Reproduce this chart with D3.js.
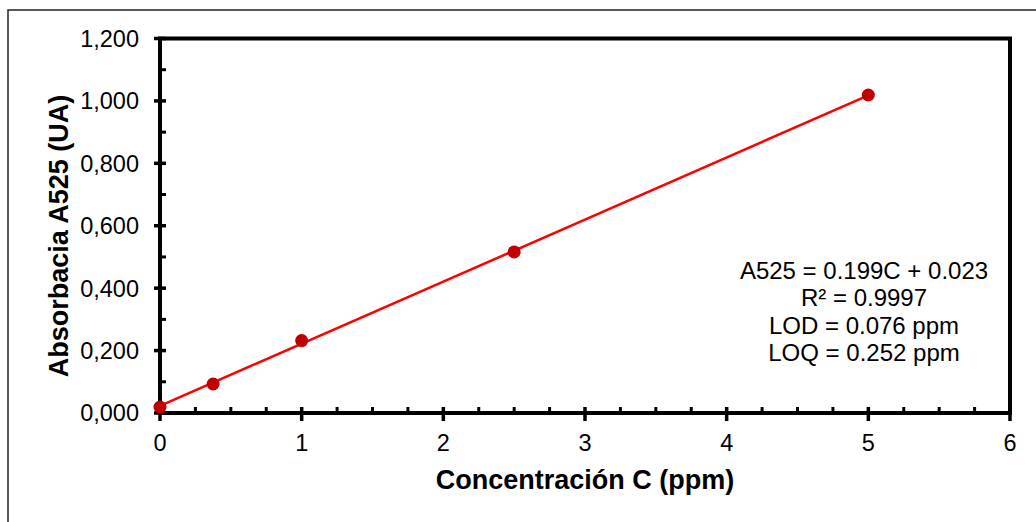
<!DOCTYPE html>
<html lang="es">
<head>
  <meta charset="UTF-8" />
  <title>Curva de calibración A525</title>
  <style>
    body {
      margin: 0;
      background: #fff;
      font-family: "Liberation Sans", Arial, sans-serif;
    }
    .tick-label { font-size: 23.5px; fill: #000; }
    .axis-title { font-size: 27px; font-weight: bold; fill: #000; }
    .eq { font-size: 24px; fill: #000; }
  </style>
</head>
<body>
<svg id="chart" width="1036" height="522"></svg>

<script src="https://d3js.org/d3.v7.min.js"></script>
<script>
  // calibration data
  const conc = [0, 0.375, 1, 2.5, 5];
  const absorb = [0.019, 0.093, 0.232, 0.516, 1.019];
  const slope = 0.199;
  const intercept = 0.023;
  const eqLines = ["A525 = 0.199C + 0.023", "R\u00b2 = 0.9997", "LOD = 0.076 ppm", "LOQ = 0.252 ppm"];
  const xMajor = [0, 1, 2, 3, 4, 5, 6];
  const yMajor = [0, 0.2, 0.4, 0.6, 0.8, 1.0, 1.2];

  const svg = d3.select("#chart");
  const plotL = 160, plotR = 1010, plotT = 38.5, plotB = 413;

  const x = d3.scaleLinear().domain([0, 6]).range([plotL, plotR]);
  const y = d3.scaleLinear().domain([0, 1.2]).range([plotB, plotT]);

  const es = d3.formatLocale({ decimal: ",", thousands: ".", grouping: [3], currency: ["", ""] });
  const fmtY = es.format(".3f");

  // outer chart frame (runs off the picture on the right and bottom)
  svg.append("rect")
    .attr("x", 8).attr("y", 10)
    .attr("width", 1100).attr("height", 600)
    .attr("fill", "none")
    .attr("stroke", "#222")
    .attr("stroke-width", 1.5);

  // minor ticks (inside only)
  const xMinor = d3.range(0, 6.001, 0.25).filter(v => Math.abs(v - Math.round(v)) > 1e-6);
  const yMinor = d3.range(0.1, 1.2, 0.2);

  svg.append("g").selectAll("line")
    .data(xMinor)
    .join("line")
    .attr("x1", d => x(d)).attr("x2", d => x(d))
    .attr("y1", plotB).attr("y2", plotB - 6)
    .attr("stroke", "#000").attr("stroke-width", 3);

  svg.append("g").selectAll("line")
    .data(yMinor)
    .join("line")
    .attr("x1", plotL).attr("x2", plotL + 6)
    .attr("y1", d => y(d)).attr("y2", d => y(d))
    .attr("stroke", "#000").attr("stroke-width", 3);

  // major ticks (crossing the axis)
  svg.append("g").selectAll("line")
    .data(xMajor)
    .join("line")
    .attr("x1", d => x(d)).attr("x2", d => x(d))
    .attr("y1", plotB - 6).attr("y2", plotB + 8)
    .attr("stroke", "#000").attr("stroke-width", 3.5);

  svg.append("g").selectAll("line")
    .data(yMajor)
    .join("line")
    .attr("x1", plotL - 6).attr("x2", plotL + 6)
    .attr("y1", d => y(d)).attr("y2", d => y(d))
    .attr("stroke", "#000").attr("stroke-width", 3.5);

  // plot area border
  svg.append("rect")
    .attr("x", plotL).attr("y", plotT)
    .attr("width", plotR - plotL).attr("height", plotB - plotT)
    .attr("fill", "none")
    .attr("stroke", "#000")
    .attr("stroke-width", 4);

  // tick labels
  svg.append("g").selectAll("text")
    .data(xMajor)
    .join("text")
    .attr("class", "tick-label")
    .attr("x", d => x(d))
    .attr("y", plotB + 38)
    .attr("text-anchor", "middle")
    .text(d => d);

  svg.append("g").selectAll("text")
    .data(yMajor)
    .join("text")
    .attr("class", "tick-label")
    .attr("x", plotL - 21)
    .attr("y", d => y(d))
    .attr("dy", "0.36em")
    .attr("text-anchor", "end")
    .text(d => fmtY(d));

  // axis titles
  svg.append("text")
    .attr("class", "axis-title")
    .attr("x", (plotL + plotR) / 2)
    .attr("y", 489)
    .attr("text-anchor", "middle")
    .text("Concentración C (ppm)");

  svg.append("text")
    .attr("class", "axis-title")
    .attr("transform", "translate(68,236) rotate(-90)")
    .attr("text-anchor", "middle")
    .text("Absorbacia A525 (UA)");

  // linear fit
  const fitX = d3.extent(conc);
  svg.append("line")
    .attr("x1", x(fitX[0])).attr("y1", y(slope * fitX[0] + intercept))
    .attr("x2", x(fitX[1])).attr("y2", y(slope * fitX[1] + intercept))
    .attr("stroke", "#ff0000")
    .attr("stroke-width", 2.5);

  // points
  svg.append("g").selectAll("circle")
    .data(conc.map((c, i) => ({ c, a: absorb[i] })))
    .join("circle")
    .attr("cx", d => x(d.c))
    .attr("cy", d => y(d.a))
    .attr("r", 6.5)
    .attr("fill", "#c00000");

  // equation box
  svg.append("g").selectAll("text")
    .data(eqLines)
    .join("text")
    .attr("class", "eq")
    .attr("x", 864)
    .attr("y", (d, i) => 279 + i * 27.3)
    .attr("text-anchor", "middle")
    .text(d => d);
</script>
</body>
</html>
